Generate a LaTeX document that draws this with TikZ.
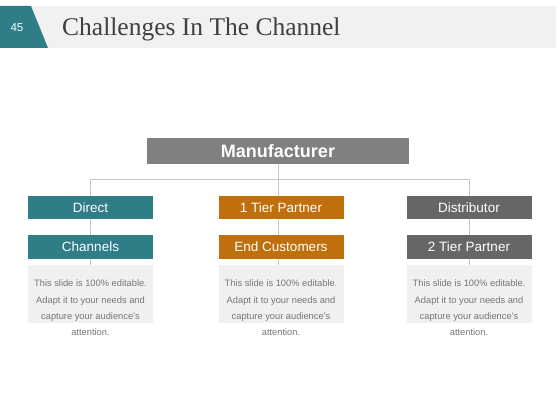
\documentclass[tikz,border=0pt]{standalone}
\usepackage{fontspec}
\setmainfont{Liberation Sans}
\newfontfamily\titlefont{Liberation Serif}
\usetikzlibrary{backgrounds}
\definecolor{tealc}{RGB}{46,125,135}
\definecolor{orangec}{RGB}{191,112,12}
\definecolor{dgreyc}{RGB}{102,102,102}
\definecolor{mgreyc}{RGB}{128,128,128}
\definecolor{boxbg}{RGB}{240,240,240}
\definecolor{bandc}{RGB}{241,241,241}
\definecolor{titlec}{RGB}{64,64,64}
\definecolor{parac}{RGB}{118,118,118}
\definecolor{linec}{RGB}{200,200,200}
\tikzset{
  hbox/.style={minimum width=125pt, minimum height=23.5pt, inner sep=0pt, text=white, font=\fontsize{13.5}{14}\selectfont},
  infobox/.style={fill=boxbg, minimum width=125pt, minimum height=58pt, inner sep=0pt},
  infotext/.style={anchor=north, align=center, text=parac, inner sep=0pt, font=\fontsize{9.3}{16.3}\selectfont},
  conn/.style={draw=linec, line width=0.8pt}
}
\begin{document}
\begin{tikzpicture}[x=1pt,y=-1pt]
\useasboundingbox (0,0) rectangle (560,420);
% header
\fill[bandc] (0,6) rectangle (556,48);
\fill[tealc] (0,6) -- (31,6) -- (48,48) -- (0,48) -- cycle;
\node[text=white, font=\fontsize{11.5}{12}\selectfont] (num) at (17,28) {45};
\node[anchor=west, text=titlec, font=\titlefont\fontsize{25.5}{28}\selectfont, inner sep=0pt] (title) at (62,29) {Challenges In The Channel};
% manufacturer
\node[fill=mgreyc, minimum width=262pt, minimum height=26pt, inner sep=0pt, text=white, font=\bfseries\fontsize{18}{19}\selectfont] (mfr) at (278,151) {Manufacturer};
% columns
\node[hbox, fill=tealc] (a1) at (90.5,207.5) {Direct};
\node[hbox, fill=tealc] (a2) at (90.5,247) {Channels};
\node[infobox] (a3) at (90.5,294) {};
\node[infotext] (a4) at (90.5,280) {This slide is 100\% editable.\\Adapt it to your needs and\\capture your audience's\\attention.};
\node[hbox, fill=orangec] (b1) at (281,207.5) {1 Tier Partner};
\node[hbox, fill=orangec] (b2) at (281,247) {End Customers};
\node[infobox] (b3) at (281,294) {};
\node[infotext] (b4) at (281,280) {This slide is 100\% editable.\\Adapt it to your needs and\\capture your audience's\\attention.};
\node[hbox, fill=dgreyc] (c1) at (469,207.5) {Distributor};
\node[hbox, fill=dgreyc] (c2) at (469,247) {2 Tier Partner};
\node[infobox] (c3) at (469,294) {};
\node[infotext] (c4) at (469,280) {This slide is 100\% editable.\\Adapt it to your needs and\\capture your audience's\\attention.};
\coordinate (jl) at (90.5,179);
\coordinate (jr) at (469,179);
\coordinate (jm) at (278,179);
\coordinate (bm) at (278,267);
\begin{scope}[on background layer]
\fill[white] (0,0) rectangle (560,420);
\draw[conn] (jl) -- (jr);
\draw[conn] (mfr.south -| jm) -- (bm);
\draw[conn] (jl) -- (a3.north -| jl);
\draw[conn] (jr) -- (c3.north -| jr);
\end{scope}
\end{tikzpicture}
\end{document}
